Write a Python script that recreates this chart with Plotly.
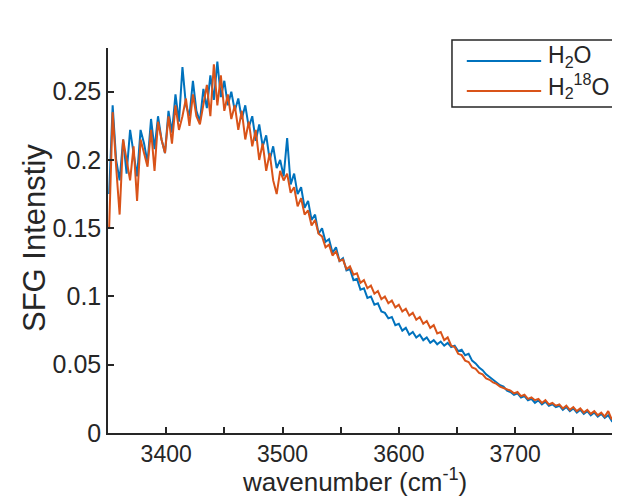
import plotly.graph_objects as go

# wavenumber grid (cm^-1), 3 cm^-1 spacing, 149 points
wavenumber = list(range(3351, 3797, 3))

h2o = [
    0.175, 0.240, 0.200, 0.185, 0.215, 0.190, 0.222, 0.205, 0.188, 0.222,
    0.212, 0.198, 0.230, 0.208, 0.232, 0.215, 0.205, 0.236, 0.220, 0.248,
    0.228, 0.268, 0.240, 0.232, 0.258, 0.236, 0.228, 0.252, 0.238, 0.262,
    0.244, 0.272, 0.246, 0.258, 0.240, 0.250, 0.236, 0.245, 0.230, 0.240,
    0.224, 0.232, 0.214, 0.226, 0.210, 0.218, 0.200, 0.210, 0.194, 0.200,
    0.188, 0.216, 0.182, 0.190, 0.175, 0.180, 0.165, 0.170, 0.156, 0.160,
    0.146, 0.150, 0.140, 0.142, 0.132, 0.136, 0.126, 0.128, 0.119, 0.120,
    0.112, 0.113, 0.105, 0.106, 0.099, 0.100, 0.094, 0.095, 0.089, 0.088,
    0.084, 0.085, 0.079, 0.080, 0.075, 0.077, 0.072, 0.074, 0.070, 0.072,
    0.068, 0.070, 0.066, 0.068, 0.065, 0.067, 0.064, 0.066, 0.063, 0.064,
    0.060, 0.061, 0.057, 0.058, 0.053, 0.051, 0.048, 0.046, 0.043, 0.041,
    0.039, 0.037, 0.035, 0.034, 0.031, 0.030, 0.028, 0.029, 0.026, 0.027,
    0.024, 0.025, 0.022, 0.024, 0.021, 0.023, 0.020, 0.021, 0.019, 0.020,
    0.017, 0.019, 0.016, 0.018, 0.015, 0.017, 0.014, 0.016, 0.013, 0.015,
    0.012, 0.014, 0.011, 0.013, 0.009, 0.012, 0.010, 0.013, 0.011,
]

h2_18o = [
    0.150, 0.235, 0.195, 0.160, 0.215, 0.200, 0.185, 0.210, 0.170, 0.215,
    0.205, 0.195, 0.222, 0.192, 0.228, 0.215, 0.205, 0.232, 0.212, 0.240,
    0.222, 0.232, 0.245, 0.225, 0.248, 0.232, 0.226, 0.242, 0.255, 0.232,
    0.270, 0.240, 0.262, 0.236, 0.248, 0.230, 0.240, 0.222, 0.236, 0.215,
    0.228, 0.210, 0.222, 0.200, 0.212, 0.192, 0.205, 0.185, 0.175, 0.192,
    0.185, 0.190, 0.176, 0.180, 0.166, 0.172, 0.160, 0.163, 0.152, 0.156,
    0.146, 0.144, 0.136, 0.138, 0.130, 0.133, 0.126, 0.127, 0.120, 0.122,
    0.116, 0.117, 0.110, 0.112, 0.106, 0.108, 0.102, 0.104, 0.098, 0.100,
    0.095, 0.097, 0.092, 0.094, 0.089, 0.091, 0.086, 0.088, 0.083, 0.085,
    0.080, 0.082, 0.077, 0.079, 0.073, 0.074, 0.068, 0.070, 0.064, 0.063,
    0.058, 0.057, 0.053, 0.052, 0.048, 0.047, 0.044, 0.043, 0.040, 0.039,
    0.037, 0.036, 0.034, 0.033, 0.032, 0.031, 0.029, 0.030, 0.027, 0.028,
    0.025, 0.026, 0.024, 0.025, 0.022, 0.024, 0.021, 0.022, 0.020, 0.021,
    0.018, 0.020, 0.017, 0.019, 0.016, 0.018, 0.015, 0.017, 0.014, 0.016,
    0.013, 0.015, 0.012, 0.016, 0.010, 0.014, 0.011, 0.015, 0.012,
]

series_names = ["H<sub>2</sub>O", "H<sub>2</sub><sup>18</sup>O"]
series_colors = ["#0072BD", "#D95319"]
x_ticks = [3400, 3500, 3600, 3700]
y_ticks = [0, 0.05, 0.1, 0.15, 0.2, 0.25]
y_tick_labels = ["0", "0.05", "0.1", "0.15", "0.2", "0.25"]

FONT = "Liberation Sans, Arial, sans-serif"
AX = "#262626"

fig = go.Figure()
for vals, nm, col in zip([h2o, h2_18o], series_names, series_colors):
    fig.add_trace(go.Scatter(x=wavenumber, y=vals, mode="lines", name=nm,
                             line=dict(color=col, width=2), showlegend=False))

# hand-built legend box (long line samples like the original)
shapes = [dict(type="rect", xref="paper", yref="paper", x0=0.6615, x1=0.990, y0=0.8468, y1=1.0208,
               line=dict(color=AX, width=1.5), fillcolor="white", layer="above")]
annotations = []
for i, (nm, col) in enumerate(zip(series_names, series_colors)):
    yy = 0.9662 - i * 0.0779
    shapes.append(dict(type="line", xref="paper", yref="paper", x0=0.690, x1=0.833, y0=yy, y1=yy,
                       line=dict(color=col, width=2), layer="above"))
    annotations.append(dict(text=nm, xref="paper", yref="paper", x=0.843, y=yy + 0.012,
                            xanchor="left", yanchor="middle", showarrow=False,
                            font=dict(size=23, family=FONT, color=AX)))

annotations.append(dict(text="wavenumber (cm<sup>-1</sup>)", xref="paper", yref="paper",
                        x=0.474, y=-0.124, xanchor="center", yanchor="middle", showarrow=False,
                        font=dict(size=26, family=FONT, color=AX)))
annotations.append(dict(text="SFG Intenstiy", xref="paper", yref="paper", textangle=-90,
                        x=-0.1404, y=0.5065, xanchor="center", yanchor="middle", showarrow=False,
                        font=dict(size=31, family=FONT, color=AX)))

fig.update_layout(
    width=620, height=501,
    margin=dict(l=100, r=0, t=40, b=76),
    paper_bgcolor="white", plot_bgcolor="white",
    font=dict(family=FONT, color=AX, size=22),
    showlegend=False,
    shapes=shapes, annotations=annotations,
)
fig.update_xaxes(
    range=[3350, 3797], tickvals=x_ticks, ticks="inside", ticklen=6, tickwidth=1.5,
    tickcolor=AX, showline=True, linecolor=AX, linewidth=1.5, showgrid=False, zeroline=False,
    tickfont=dict(size=23, family=FONT, color=AX),
    minor=dict(tickvals=[3450, 3550, 3650, 3750], ticks="inside", ticklen=6, tickwidth=1.5,
               tickcolor=AX, showgrid=False),
)
fig.update_yaxes(
    range=[0, 0.282], tickvals=y_ticks, ticktext=y_tick_labels, ticks="inside", ticklen=6,
    tickwidth=1.5, tickcolor=AX, showline=True, linecolor=AX, linewidth=1.5, showgrid=False,
    zeroline=False, tickfont=dict(size=25, family=FONT, color=AX),
)

fig.write_html("out.html")
